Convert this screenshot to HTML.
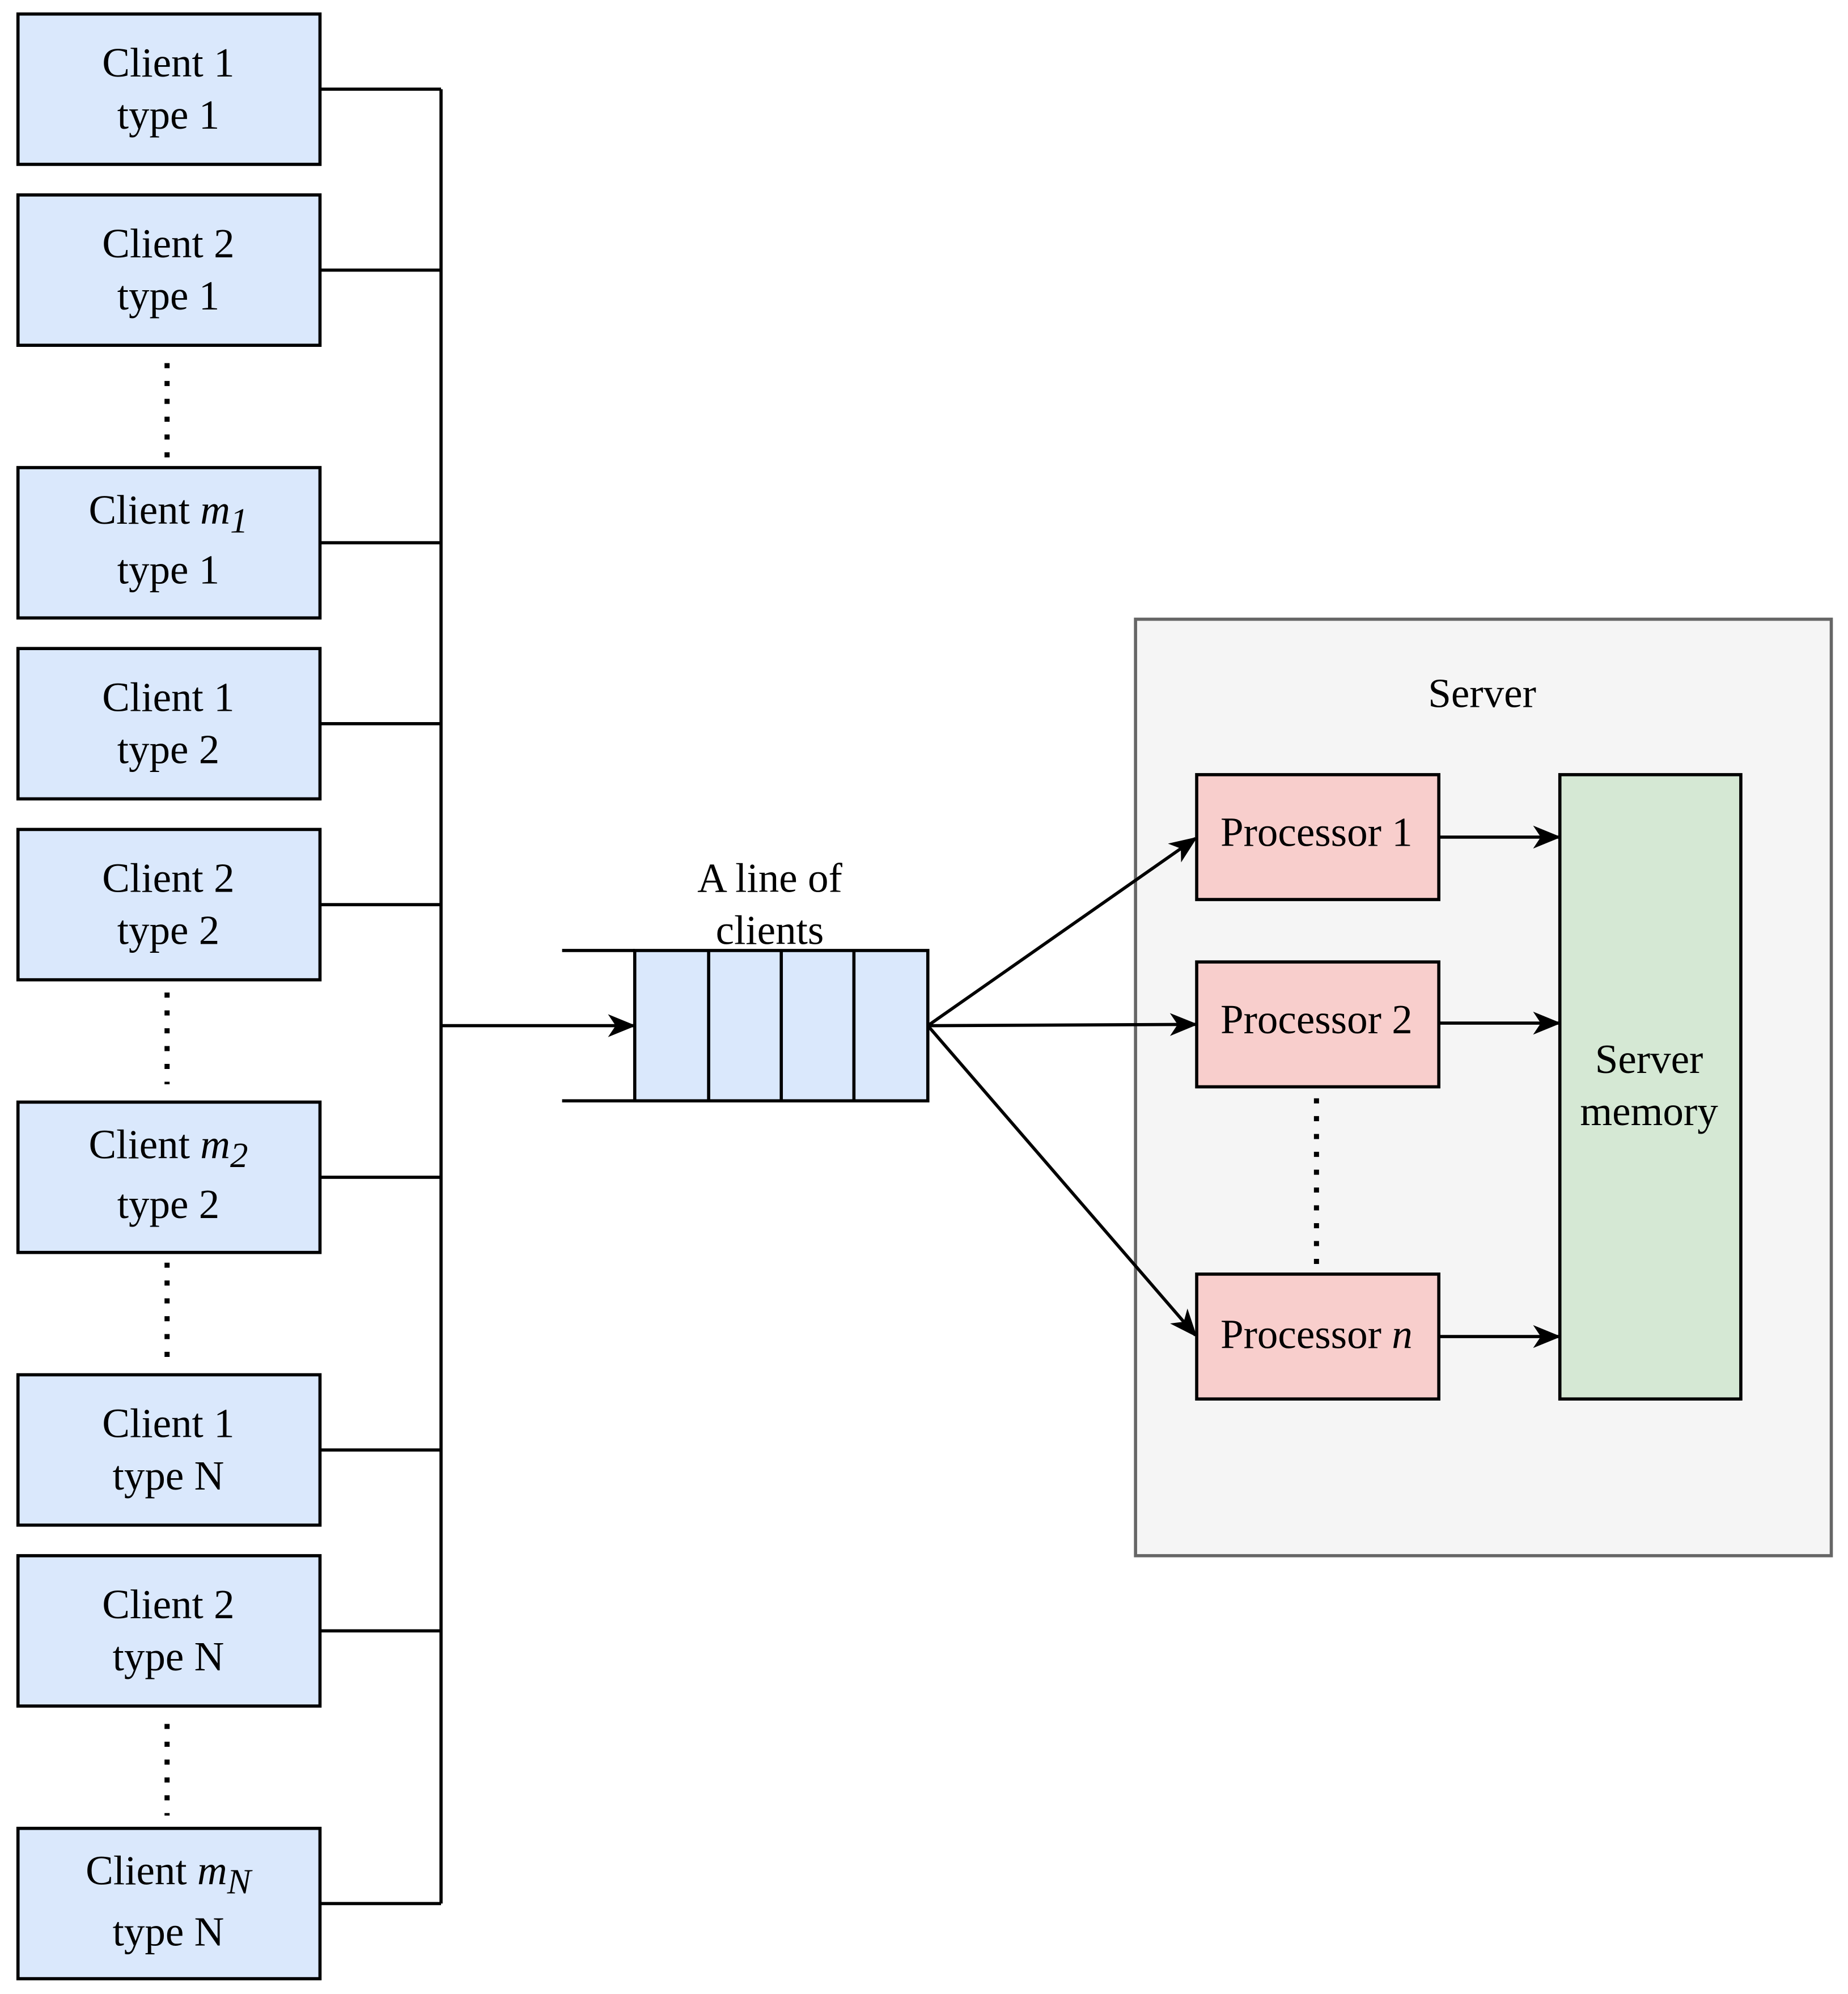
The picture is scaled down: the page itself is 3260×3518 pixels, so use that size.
<!DOCTYPE html>
<html><head><meta charset="utf-8"><style>
html,body{margin:0;padding:0;background:#fff;}
svg{display:block;}
text{font-family:"Liberation Serif",serif;font-size:32.5px;fill:#000;}
</style></head><body>
<svg width="3260" height="3518" viewBox="0 0 1450 1565" xmlns="http://www.w3.org/2000/svg">
<defs>
<marker id="ah2" markerWidth="22" markerHeight="22" refX="20" refY="11" orient="auto" markerUnits="userSpaceOnUse" viewBox="0 0 22 22">
<path d="M0,2 L22,11 L0,20 L6,11 Z" fill="#000"/>
</marker>
</defs>
<rect width="1450" height="1565" fill="#fff"/>
<g fill="#dae8fc" stroke="#000" stroke-width="2.5">
<rect x="14" y="11" width="237" height="118"/>
<rect x="14" y="153" width="237" height="118"/>
<rect x="14" y="367" width="237" height="118"/>
<rect x="14" y="509" width="237" height="118"/>
<rect x="14" y="651" width="237" height="118"/>
<rect x="14" y="865" width="237" height="118"/>
<rect x="14" y="1079" width="237" height="118"/>
<rect x="14" y="1221" width="237" height="118"/>
<rect x="14" y="1435" width="237" height="118"/>
</g>
<g text-anchor="middle">
<text x="132" y="60">Client 1</text><text x="132" y="101">type 1</text>
<text x="132" y="202">Client 2</text><text x="132" y="243">type 1</text>
<text x="132" y="411">Client <tspan font-style="italic">m</tspan><tspan font-style="italic" font-size="28" dy="7">1</tspan></text><text x="132" y="458">type 1</text>
<text x="132" y="558">Client 1</text><text x="132" y="599">type 2</text>
<text x="132" y="700">Client 2</text><text x="132" y="741">type 2</text>
<text x="132" y="909">Client <tspan font-style="italic">m</tspan><tspan font-style="italic" font-size="28" dy="7">2</tspan></text><text x="132" y="956">type 2</text>
<text x="132" y="1128">Client 1</text><text x="132" y="1169">type N</text>
<text x="132" y="1270">Client 2</text><text x="132" y="1311">type N</text>
<text x="132" y="1479">Client <tspan font-style="italic">m</tspan><tspan font-style="italic" font-size="28" dy="7">N</tspan></text><text x="132" y="1527">type N</text>
</g>
<g stroke="#000" stroke-width="4" stroke-dasharray="4,10" fill="none">
<line x1="131" y1="285" x2="131" y2="367"/>
<line x1="131" y1="779" x2="131" y2="851"/>
<line x1="131" y1="991" x2="131" y2="1065"/>
<line x1="131" y1="1353" x2="131" y2="1425"/>
</g>
<g stroke="#000" stroke-width="2.5" fill="none">
<path d="M251,70 H346 M251,212 H346 M251,426 H346 M251,568 H346 M251,710 H346 M251,924 H346 M251,1138 H346 M251,1280 H346 M251,1494 H346 M346,70 V1494"/>
<line x1="346" y1="805" x2="497" y2="805" marker-end="url(#ah2)"/>
<path d="M441,746 H498 M441,864 H498"/>
</g>
<rect x="498" y="746" width="230" height="118" fill="#dae8fc" stroke="#000" stroke-width="2.5"/>
<path d="M556,746 V864 M613,746 V864 M670,746 V864" stroke="#000" stroke-width="2.5"/>
<text x="604" y="700" text-anchor="middle">A line of</text>
<text x="604" y="741" text-anchor="middle">clients</text>
<rect x="891" y="486" width="546" height="735" fill="#f5f5f5" stroke="#666" stroke-width="2.5"/>
<text x="1163" y="555" text-anchor="middle">Server</text>
<g fill="#f8cecc" stroke="#000" stroke-width="2.5">
<rect x="939" y="608" width="190" height="98"/>
<rect x="939" y="755" width="190" height="98"/>
<rect x="939" y="1000" width="190" height="98"/>
</g>
<rect x="1224" y="608" width="142" height="490" fill="#d5e8d4" stroke="#000" stroke-width="2.5"/>
<g text-anchor="middle">
<text x="1033" y="664">Processor 1</text>
<text x="1033" y="811">Processor 2</text>
<text x="1033" y="1058">Processor <tspan font-style="italic">n</tspan></text>
<text x="1294" y="842">Server</text>
<text x="1294" y="883">memory</text>
</g>
<line x1="1033" y1="862" x2="1033" y2="1000" stroke="#000" stroke-width="4" stroke-dasharray="4,10"/>
<g stroke="#000" stroke-width="2.5" fill="none">
<line x1="728" y1="805" x2="938" y2="658" marker-end="url(#ah2)"/>
<line x1="728" y1="805" x2="938" y2="804" marker-end="url(#ah2)"/>
<line x1="728" y1="805" x2="938" y2="1048" marker-end="url(#ah2)"/>
<line x1="1129" y1="657" x2="1223" y2="657" marker-end="url(#ah2)"/>
<line x1="1129" y1="803" x2="1223" y2="803" marker-end="url(#ah2)"/>
<line x1="1129" y1="1049" x2="1223" y2="1049" marker-end="url(#ah2)"/>
</g>
</svg>
</body></html>
